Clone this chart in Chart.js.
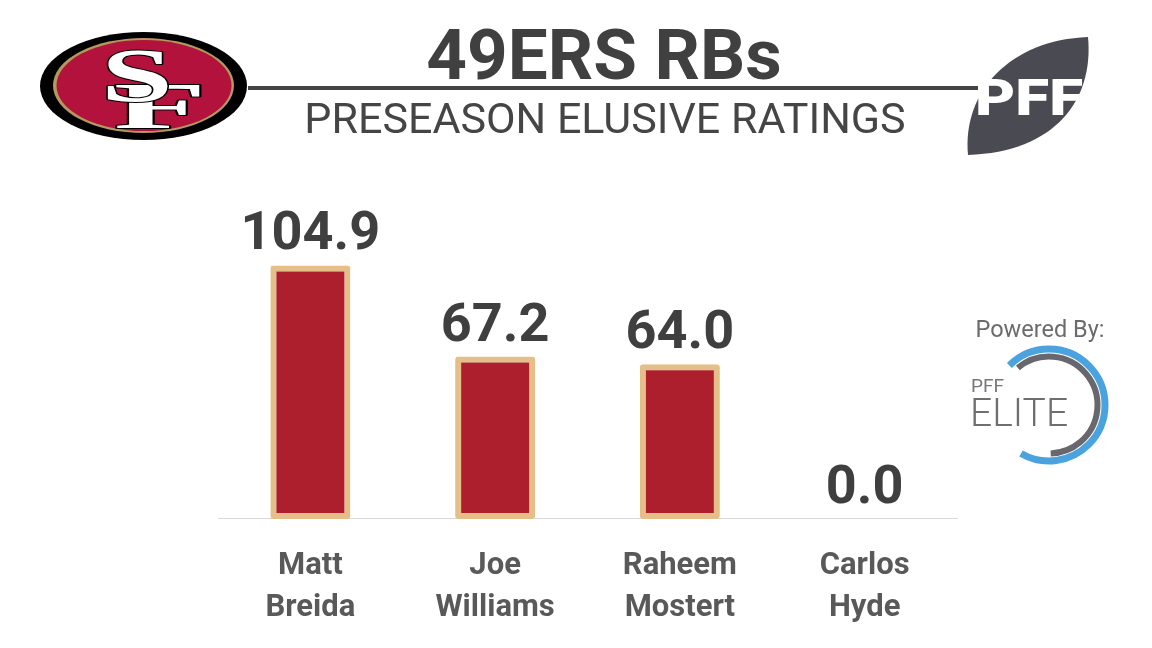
<!DOCTYPE html>
<html>
<head>
<meta charset="utf-8">
<title>49ers RBs - Preseason Elusive Ratings</title>
<script src="https://cdn.jsdelivr.net/npm/chart.js@4/dist/chart.umd.min.js"></script>
<style>
  html, body { margin: 0; padding: 0; background: #fff; }
  #wrap { width: 1152px; height: 648px; position: relative; }
</style>
</head>
<body>
<div id="wrap"><canvas id="chart" width="1152" height="648"></canvas></div>
<script>
// --------------------
// Data
// --------------------
const players = [['Matt', 'Breida'], ['Joe', 'Williams'], ['Raheem', 'Mostert'], ['Carlos', 'Hyde']];
const ratings = [104.9, 67.2, 64.0, 0.0];
const yMax = 120;

const titleText = '49ERS RBs';
const subtitleText = 'PRESEASON ELUSIVE RATINGS';

// --------------------
// Decorations (title, logos)
// --------------------
function ellipse(ctx, x, y, rx, ry, color) {
  ctx.beginPath();
  ctx.ellipse(x, y, rx, ry, 0, 0, Math.PI * 2);
  ctx.fillStyle = color;
  ctx.fill();
}

function drawSFLogo(ctx) {
  ctx.save();
  ellipse(ctx, 143.5, 86, 103.5, 54, '#000');
  ellipse(ctx, 143.5, 85.5, 90.5, 47.5, '#b3995d');
  ellipse(ctx, 144, 85.5, 87.5, 45.5, '#b2123c');

  ctx.lineJoin = 'round';
  ctx.textAlign = 'center';
  ctx.textBaseline = 'alphabetic';

  // F behind
  ctx.save();
  ctx.translate(160, 128);
  ctx.scale(2.3, 1);
  ctx.font = 'bold 66px "Liberation Serif"';
  ctx.lineWidth = 2;
  ctx.strokeStyle = '#000';
  ctx.strokeText('F', 0, 0);
  ctx.fillStyle = '#fff';
  ctx.fillText('F', 0, 0);
  ctx.restore();

  // S in front
  ctx.save();
  ctx.translate(137, 101);
  ctx.scale(1.7, 1);
  ctx.font = 'bold 76px "Liberation Serif"';
  ctx.lineWidth = 2;
  ctx.strokeStyle = '#000';
  ctx.strokeText('S', 0, 0);
  ctx.fillStyle = '#fff';
  ctx.fillText('S', 0, 0);
  ctx.restore();

  ctx.restore();
}

function drawPFFLogo(ctx) {
  ctx.save();
  ctx.beginPath();
  ctx.moveTo(968, 155);
  ctx.bezierCurveTo(962, 92, 1010, 40, 1088, 37);
  ctx.bezierCurveTo(1094, 100, 1055, 152, 968, 155);
  ctx.closePath();
  ctx.fillStyle = '#4a4a52';
  ctx.fill();

  ctx.font = '900 50px Roboto';
  ctx.textAlign = 'left';
  ctx.textBaseline = 'alphabetic';
  const w = ctx.measureText('PFF').width;
  ctx.translate(975, 115);
  ctx.scale(108 / w, 1);
  ctx.fillStyle = '#fff';
  ctx.fillText('PFF', 0, 0);
  ctx.restore();
}

function drawEliteLogo(ctx) {
  ctx.save();
  ctx.fillStyle = '#6b6b6b';
  ctx.font = '23.5px Roboto';
  ctx.textAlign = 'center';
  ctx.textBaseline = 'alphabetic';
  ctx.fillText('Powered By:', 1040, 337);

  const cx = 1049, cy = 405;
  const rad = d => d * Math.PI / 180;
  ctx.lineCap = 'butt';
  ctx.beginPath();
  ctx.arc(cx, cy, 56, rad(-135), rad(120));
  ctx.strokeStyle = '#4aa3df';
  ctx.lineWidth = 7;
  ctx.stroke();

  ctx.beginPath();
  ctx.arc(cx, cy, 48.5, rad(-130), rad(88));
  ctx.strokeStyle = '#67676d';
  ctx.lineWidth = 6;
  ctx.stroke();

  ctx.textAlign = 'left';
  ctx.fillStyle = '#77777b';
  ctx.font = '19px Roboto';
  ctx.fillText('PFF', 971, 392);
  ctx.font = '300 39px Roboto';
  ctx.fillStyle = '#6e6e73';
  ctx.fillText('ELITE', 970, 426);
  ctx.restore();
}

const decorPlugin = {
  id: 'decor',
  afterDraw(chart) {
    const ctx = chart.ctx;
    ctx.save();

    // header rule
    ctx.fillStyle = '#444';
    ctx.fillRect(248, 86, 730, 4);

    // title
    ctx.fillStyle = '#404040';
    ctx.textAlign = 'center';
    ctx.textBaseline = 'alphabetic';
    ctx.font = 'bold 71px Roboto';
    ctx.fillText(titleText, 604, 79);

    ctx.fillStyle = '#454545';
    ctx.font = '43px Roboto';
    ctx.fillText(subtitleText, 605, 133);
    ctx.restore();

    drawSFLogo(ctx);
    drawPFFLogo(ctx);
    drawEliteLogo(ctx);
  }
};

// value labels above bars
const valueLabels = {
  id: 'valueLabels',
  afterDatasetsDraw(chart) {
    const ctx = chart.ctx;
    const meta = chart.getDatasetMeta(0);
    ctx.save();
    ctx.fillStyle = '#3f3f3f';
    ctx.font = 'bold 54px Roboto';
    ctx.textAlign = 'center';
    ctx.textBaseline = 'alphabetic';
    meta.data.forEach((bar, i) => {
      ctx.fillText(ratings[i].toFixed(1), bar.x, bar.y - 16);
    });
    ctx.restore();
  }
};

// --------------------
// Chart
// --------------------
new Chart(document.getElementById('chart'), {
  type: 'bar',
  data: {
    labels: players,
    datasets: [{
      data: ratings,
      backgroundColor: '#ae1f2d',
      borderColor: '#e6bf88',
      borderWidth: 6,
      borderSkipped: false,
      borderRadius: 3,
      categoryPercentage: 1,
      barPercentage: 0.433
    }]
  },
  options: {
    responsive: false,
    animation: false,
    layout: { padding: { top: 229, left: 218, right: 195, bottom: -8 } },
    plugins: {
      legend: { display: false },
      tooltip: { enabled: false }
    },
    scales: {
      y: { display: false, min: 0, max: yMax },
      x: {
        grid: { display: false, drawTicks: false },
        border: { display: true, color: '#d9d9d9', width: 1 },
        ticks: {
          color: '#595959',
          padding: 27,
          font: { family: 'Roboto', weight: 'bold', size: 31, lineHeight: 1.34 }
        }
      }
    }
  },
  plugins: [valueLabels, decorPlugin]
});
</script>
</body>
</html>
